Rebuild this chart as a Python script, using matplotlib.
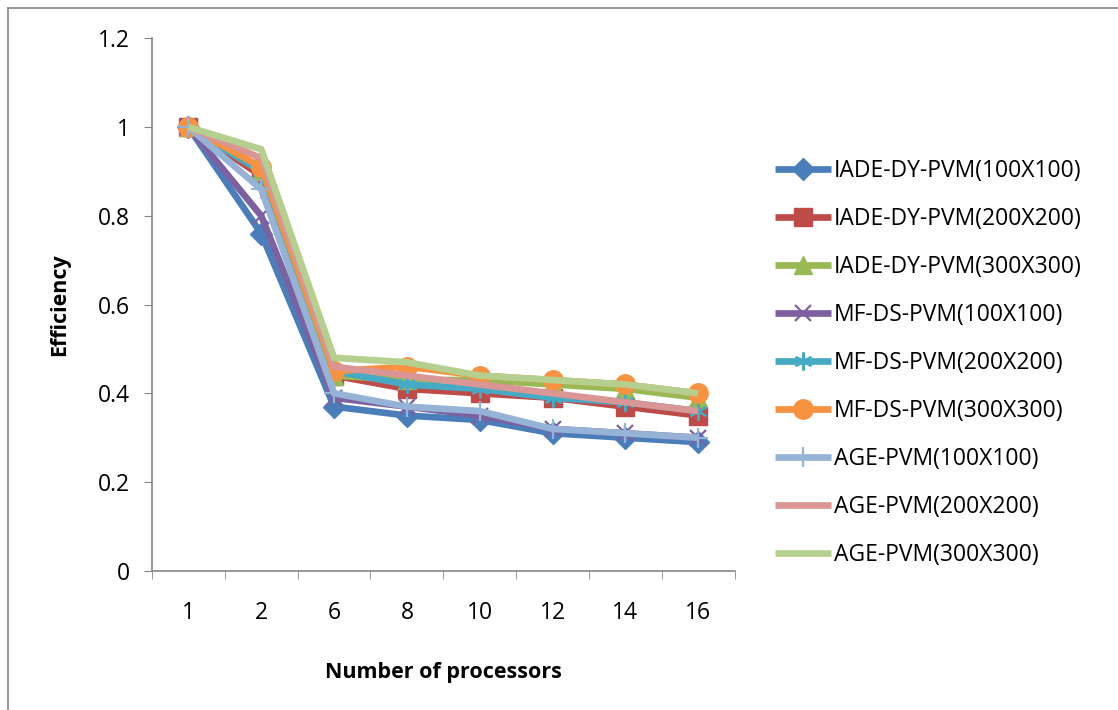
import matplotlib
matplotlib.use("Agg")
import matplotlib.pyplot as plt
from matplotlib.lines import Line2D

plt.rcParams['font.family'] = ['Open Sans', 'DejaVu Sans']

categories = ["1", "2", "6", "8", "10", "12", "14", "16"]

iade_100 = [1.00, 0.76, 0.37, 0.35, 0.34, 0.31, 0.30, 0.29]
iade_200 = [1.00, 0.89, 0.44, 0.41, 0.40, 0.39, 0.37, 0.35]
iade_300 = [1.00, 0.90, 0.44, 0.43, 0.43, 0.42, 0.41, 0.39]
mfds_100 = [1.00, 0.80, 0.39, 0.37, 0.35, 0.32, 0.31, 0.30]
mfds_200 = [1.00, 0.90, 0.45, 0.42, 0.41, 0.39, 0.38, 0.36]
mfds_300 = [1.00, 0.91, 0.45, 0.46, 0.44, 0.43, 0.42, 0.40]
age_100 = [1.00, 0.86, 0.40, 0.37, 0.36, 0.32, 0.31, 0.30]
age_200 = [1.00, 0.93, 0.46, 0.44, 0.42, 0.40, 0.38, 0.36]
age_300 = [1.00, 0.95, 0.48, 0.47, 0.44, 0.43, 0.42, 0.40]

series_names = ["IADE-DY-PVM(100X100)", "IADE-DY-PVM(200X200)", "IADE-DY-PVM(300X300)",
                "MF-DS-PVM(100X100)", "MF-DS-PVM(200X200)", "MF-DS-PVM(300X300)",
                "AGE-PVM(100X100)", "AGE-PVM(200X200)", "AGE-PVM(300X300)"]
series_values = [iade_100, iade_200, iade_300, mfds_100, mfds_200, mfds_300,
                 age_100, age_200, age_300]
colors = ["#4A7EBB", "#BE4B48", "#98B954", "#7D60A0", "#46AAC5", "#F69240",
          "#95B3D7", "#D99694", "#B5CF8F"]
markers = ["D", "s", "^", "x", (6, 2, 0), "o", "+", None, None]
msizes = [11, 13, 13, 12, 13, 14, 15, 0, 0]

fig = plt.figure(figsize=(11.18, 7.10), dpi=100)
ax = fig.add_axes([0.136, 0.196, 0.521, 0.750])

x = list(range(len(categories)))
handles = []
for name, vals, c, m, ms in zip(series_names, series_values, colors, markers, msizes):
    kw = dict(color=c, linewidth=4.8, solid_capstyle='butt', solid_joinstyle='miter', label=name)
    if m is not None:
        mew = 1.6 if m in ("x", "+") or isinstance(m, tuple) else 1.0
        kw.update(marker=m, markersize=ms, markerfacecolor=c, markeredgecolor=c, markeredgewidth=mew)
    ln, = ax.plot(x, vals, **kw)
    handles.append(ln)

ax.set_xlim(-0.5, len(categories) - 0.5)
ax.set_ylim(0, 1.2)
ax.set_yticks([0, 0.2, 0.4, 0.6, 0.8, 1.0, 1.2])
ax.set_yticklabels(["0", "0.2", "0.4", "0.6", "0.8", "1", "1.2"])
ax.set_xticks(x)
ax.set_xticklabels(categories)
ax.set_xticks([i - 0.5 for i in range(len(categories) + 1)], minor=True)
ax.tick_params(axis='x', which='major', length=0, pad=22, labelsize=16.5)
ax.tick_params(axis='x', which='minor', length=6, color='#868686', direction='out')
ax.tick_params(axis='y', length=6, color='#868686', labelsize=16.5, pad=10)
for s in ['top', 'right']:
    ax.spines[s].set_visible(False)
for s in ['left', 'bottom']:
    ax.spines[s].set_color('#868686')
    ax.spines[s].set_linewidth(1.2)

ax.set_ylabel("Efficiency", fontsize=15.5, fontweight='bold', labelpad=20)
ax.set_xlabel("Number of processors", fontsize=15.5, fontweight='bold', labelpad=26)

fig.legend(handles=handles, loc='upper left', bbox_to_anchor=(0.685, 0.789),
           frameon=False, fontsize=16.5, handlelength=2.45, handletextpad=0.12,
           labelspacing=1.045, borderaxespad=0)

# outer chart border (left and top edges visible)
fig.add_artist(Line2D([0.0075, 0.0075], [0.0, 0.989], color='#868686', linewidth=1.2, transform=fig.transFigure))
fig.add_artist(Line2D([0.0075, 1.0], [0.989, 0.989], color='#868686', linewidth=1.2, transform=fig.transFigure))

fig.savefig("out.png", dpi=100)
